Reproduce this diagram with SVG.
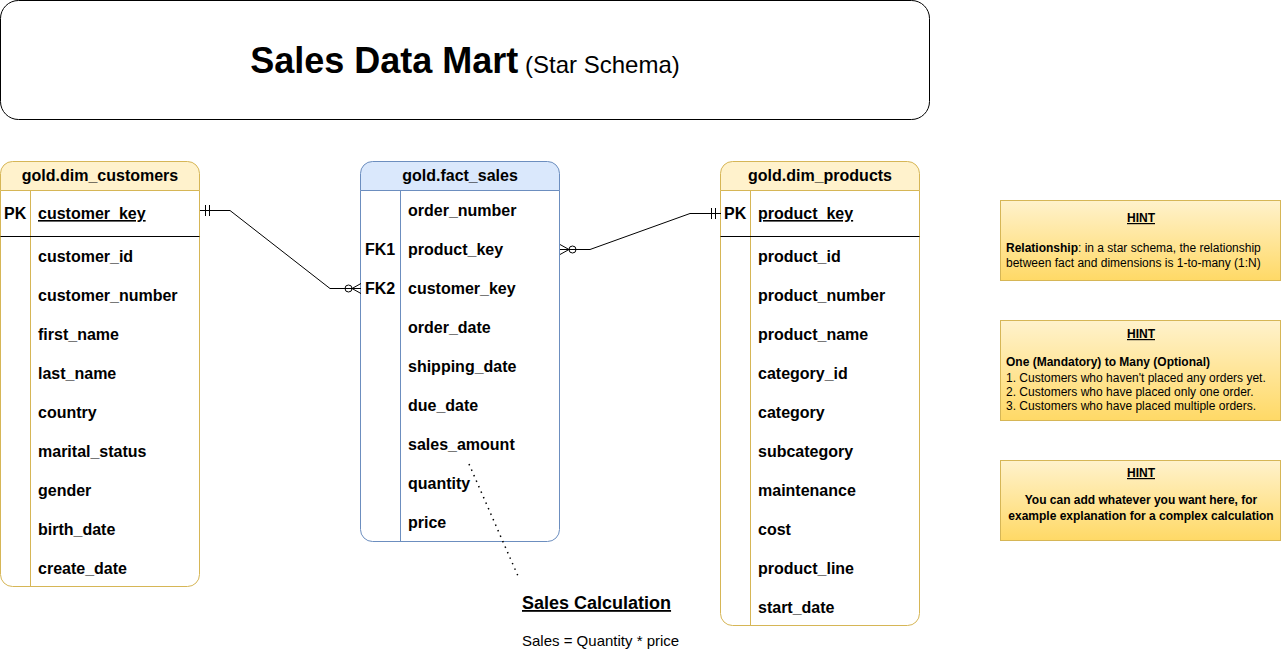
<svg xmlns="http://www.w3.org/2000/svg" width="1281" height="664" viewBox="0 0 1281 664">
<defs>
<linearGradient id="hintGrad" x1="0" y1="0" x2="0" y2="1">
<stop offset="0" stop-color="#fff2cc"/>
<stop offset="1" stop-color="#ffd966"/>
</linearGradient>
<style>
text{font-family:"Liberation Sans",Arial,sans-serif;fill:#000}
.f{font-size:16px;font-weight:bold}
.h{font-size:16px;font-weight:bold;text-anchor:middle}
.u{text-decoration:underline}
.ybox{fill:#fff;stroke:#d6b656;stroke-width:1}
.yhead{fill:#fff2cc;stroke:#d6b656;stroke-width:1}
.bbox{fill:#fff;stroke:#6c8ebf;stroke-width:1}
.bhead{fill:#dae8fc;stroke:#6c8ebf;stroke-width:1}
.ydiv{stroke:#d6b656;stroke-width:1}
.bdiv{stroke:#6c8ebf;stroke-width:1}
.sep{stroke:#000;stroke-width:1}
.hint{fill:url(#hintGrad);stroke:#d6b656;stroke-width:1}
.ht{font-size:12px}
.conn{fill:none;stroke:#000;stroke-width:1}
</style>
</defs>

<g id="title">
<rect x="0.5" y="0.5" width="929" height="119" rx="18" ry="18" fill="#fff" stroke="#000"/>
<text x="465" y="73" text-anchor="middle"><tspan font-size="36" font-weight="bold">Sales Data Mart</tspan><tspan font-size="24"> (Star Schema)</tspan></text>
</g>

<g id="dim_customers">
<path class="yhead" d="M0.5,190.5 V173.5 a12,12 0 0 1 12,-12 H187.5 a12,12 0 0 1 12,12 V190.5 Z"/>
<path class="ybox" d="M0.5,190.5 H199.5 V574.5 a12,12 0 0 1 -12,12 H12.5 a12,12 0 0 1 -12,-12 Z"/>
<line class="ydiv" x1="30.5" y1="190.5" x2="30.5" y2="586.5"/>
<line class="sep" x1="0.5" y1="236.5" x2="199.5" y2="236.5"/>
<text class="h" x="100" y="181">gold.dim_customers</text>
<text class="f" x="4" y="219">PK</text>
<text class="f u" x="38" y="219">customer_key</text>
<text class="f" x="38" y="262">customer_id</text>
<text class="f" x="38" y="301">customer_number</text>
<text class="f" x="38" y="340">first_name</text>
<text class="f" x="38" y="379">last_name</text>
<text class="f" x="38" y="418">country</text>
<text class="f" x="38" y="457">marital_status</text>
<text class="f" x="38" y="496">gender</text>
<text class="f" x="38" y="535">birth_date</text>
<text class="f" x="38" y="574">create_date</text>
</g>

<g id="fact_sales">
<path class="bhead" d="M360.5,190.5 V173.5 a12,12 0 0 1 12,-12 H547.5 a12,12 0 0 1 12,12 V190.5 Z"/>
<path class="bbox" d="M360.5,190.5 H559.5 V529.5 a12,12 0 0 1 -12,12 H372.5 a12,12 0 0 1 -12,-12 Z"/>
<line class="bdiv" x1="400.5" y1="190.5" x2="400.5" y2="541.5"/>
<text class="h" x="460" y="181">gold.fact_sales</text>
<text class="f" x="408" y="216">order_number</text>
<text class="f" x="365" y="255">FK1</text>
<text class="f" x="408" y="255">product_key</text>
<text class="f" x="365" y="294">FK2</text>
<text class="f" x="408" y="294">customer_key</text>
<text class="f" x="408" y="333">order_date</text>
<text class="f" x="408" y="372">shipping_date</text>
<text class="f" x="408" y="411">due_date</text>
<text class="f" x="408" y="450">sales_amount</text>
<text class="f" x="408" y="489">quantity</text>
<text class="f" x="408" y="528">price</text>
</g>

<g id="dim_products">
<path class="yhead" d="M720.5,190.5 V173.5 a12,12 0 0 1 12,-12 H907.5 a12,12 0 0 1 12,12 V190.5 Z"/>
<path class="ybox" d="M720.5,190.5 H919.5 V613.5 a12,12 0 0 1 -12,12 H732.5 a12,12 0 0 1 -12,-12 Z"/>
<line class="ydiv" x1="750.5" y1="190.5" x2="750.5" y2="625.5"/>
<line class="sep" x1="720.5" y1="236.5" x2="919.5" y2="236.5"/>
<text class="h" x="820" y="181">gold.dim_products</text>
<text class="f" x="724" y="219">PK</text>
<text class="f u" x="758" y="219">product_key</text>
<text class="f" x="758" y="262">product_id</text>
<text class="f" x="758" y="301">product_number</text>
<text class="f" x="758" y="340">product_name</text>
<text class="f" x="758" y="379">category_id</text>
<text class="f" x="758" y="418">category</text>
<text class="f" x="758" y="457">subcategory</text>
<text class="f" x="758" y="496">maintenance</text>
<text class="f" x="758" y="535">cost</text>
<text class="f" x="758" y="574">product_line</text>
<text class="f" x="758" y="613">start_date</text>
</g>

<g id="connectors">
<path class="conn" d="M200,210.5 H230 L330,288.5 H361"/>
<line class="conn" x1="205.5" y1="205" x2="205.5" y2="216"/>
<line class="conn" x1="209.5" y1="205" x2="209.5" y2="216"/>
<circle class="conn" cx="348.5" cy="288.5" r="3.5" fill="#fff"/>
<path class="conn" d="M361,283.5 L352,288.5 L361,293.5"/>

<path class="conn" d="M560,249.5 H590 L690,213.5 H721"/>
<line class="conn" x1="715.5" y1="208" x2="715.5" y2="219"/>
<line class="conn" x1="711.5" y1="208" x2="711.5" y2="219"/>
<circle class="conn" cx="572.5" cy="249.5" r="3.5" fill="#fff"/>
<path class="conn" d="M560,244.5 L569,249.5 L560,254.5"/>

<line x1="469" y1="464" x2="518" y2="576" stroke="#000" stroke-width="1.5" stroke-dasharray="1.5 4.5"/>
</g>

<g id="sales_calc">
<text x="522" y="609" font-size="18" font-weight="bold" text-decoration="underline">Sales Calculation</text>
<text x="522" y="646" font-size="15">Sales = Quantity * price</text>
</g>

<g id="hint1">
<rect class="hint" x="1000.5" y="200.5" width="280" height="80"/>
<text class="ht u" x="1141" y="222" text-anchor="middle" font-weight="bold">HINT</text>
<text class="ht" x="1006" y="252"><tspan font-weight="bold">Relationship</tspan>: in a star schema, the relationship</text>
<text class="ht" x="1006" y="267">between fact and dimensions is 1-to-many (1:N)</text>
</g>

<g id="hint2">
<rect class="hint" x="1000.5" y="320.5" width="280" height="100"/>
<text class="ht u" x="1141" y="338" text-anchor="middle" font-weight="bold">HINT</text>
<text class="ht" x="1006" y="366" font-weight="bold">One (Mandatory) to Many (Optional)</text>
<text class="ht" x="1006" y="382">1. Customers who haven't placed any orders yet.</text>
<text class="ht" x="1006" y="396">2. Customers who have placed only one order.</text>
<text class="ht" x="1006" y="410">3. Customers who have placed multiple orders.</text>
</g>

<g id="hint3">
<rect class="hint" x="1000.5" y="460.5" width="280" height="80"/>
<text class="ht u" x="1141" y="477" text-anchor="middle" font-weight="bold">HINT</text>
<text class="ht" x="1141" y="504" text-anchor="middle" font-weight="bold">You can add whatever you want here, for</text>
<text class="ht" x="1141" y="520" text-anchor="middle" font-weight="bold">example explanation for a complex calculation</text>
</g>
</svg>
